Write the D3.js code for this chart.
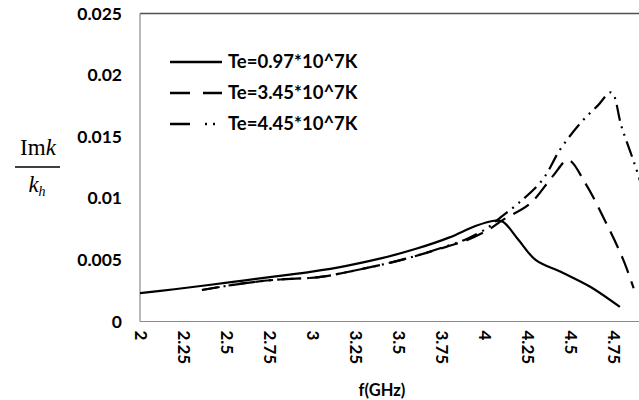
<!DOCTYPE html>
<html>
<head>
<meta charset="utf-8">
<script src="https://cdn.jsdelivr.net/npm/d3@7"></script>
<style>
  body { margin: 0; background: #fff; }
  svg { display: block; }
  .tick text { font-family: Lato, "Open Sans", sans-serif; font-weight: bold; fill: #000; }
  .legendText { font-family: Lato, "Open Sans", sans-serif; font-weight: bold; font-size: 18.5px; }
</style>
</head>
<body>
<svg id="chart"></svg>
<script>
// Te = 0.97*10^7 K
const freqSolid = [2.0, 2.2, 2.4, 2.6, 2.8, 3.0, 3.2, 3.4, 3.6, 3.8, 3.95, 4.06, 4.11, 4.2, 4.3, 4.46, 4.62, 4.79]
const imkSolid  = [0.00230, 0.00262, 0.00296, 0.00332, 0.00368, 0.00405, 0.00452, 0.00512, 0.00588, 0.00683, 0.00775, 0.00818, 0.00810, 0.00663, 0.00500, 0.00394, 0.00280, 0.00118]

// Te = 3.45*10^7 K
const freqDash = [2.36, 2.6, 2.8, 3.04, 3.2, 3.52, 3.78, 3.9, 4.02, 4.11, 4.27, 4.40, 4.49, 4.59, 4.71, 4.81, 4.87]
const imkDash  = [0.00256, 0.00310, 0.00340, 0.00360, 0.00400, 0.00500, 0.00606, 0.00660, 0.00740, 0.00825, 0.00960, 0.01180, 0.01310, 0.01120, 0.00800, 0.00500, 0.00270]

// Te = 4.45*10^7 K
const freqDot = [2.36, 2.6, 2.8, 3.04, 3.2, 3.52, 3.78, 3.9, 4.02, 4.10, 4.20, 4.34, 4.44, 4.56, 4.66, 4.74, 4.80, 4.88, 4.95]
const imkDot  = [0.00256, 0.00310, 0.00340, 0.00360, 0.00400, 0.00500, 0.00610, 0.00670, 0.00760, 0.00850, 0.00960, 0.01150, 0.01390, 0.01610, 0.01750, 0.01860, 0.01580, 0.01260, 0.00950]

const seriesNames = ['Te=0.97*10^7K', 'Te=3.45*10^7K', 'Te=4.45*10^7K']
const seriesDash = ['none', '18,9', '16,6,2,6,2,6']

const xTicks = [2, 2.25, 2.5, 2.75, 3, 3.25, 3.5, 3.75, 4, 4.25, 4.5, 4.75]
const yTicks = [0, 0.005, 0.01, 0.015, 0.02, 0.025]

const config = {
  width: 639,
  height: 400,
  left: 140,
  top: 13.5,
  bottom: 321.5,
  right: 656 // plot runs past the picture edge, as in the original
}

const svg = d3.select('#chart')
    .attr('width', config.width)
    .attr('height', config.height)

const xScale = d3.scaleLinear()
    .domain([2, 5])
    .range([config.left, config.right])

const yScale = d3.scaleLinear()
    .domain([0, 0.025])
    .range([config.bottom, config.top])

// plot area frame
svg.append('line')
    .attr('x1', config.left).attr('x2', config.right)
    .attr('y1', config.top).attr('y2', config.top)
    .attr('stroke', '#505050').attr('stroke-width', 1.5)
svg.append('line')
    .attr('x1', config.left).attr('x2', config.right)
    .attr('y1', config.bottom).attr('y2', config.bottom)
    .attr('stroke', '#8a8a8a').attr('stroke-width', 1.2)
svg.append('line')
    .attr('x1', config.left).attr('x2', config.left)
    .attr('y1', config.top).attr('y2', config.bottom)
    .attr('stroke', '#8a8a8a').attr('stroke-width', 1.2)

// axes
const yAxis = d3.axisLeft(yScale)
    .tickValues(yTicks)
    .tickSize(0)
    .tickPadding(18)
    .tickFormat(d => d3.format('~g')(+d.toFixed(3)))

const yAxisG = svg.append('g')
    .attr('transform', `translate(${config.left},0)`)
    .call(yAxis)
yAxisG.select('.domain').remove()
yAxisG.selectAll('text').style('font-size', '17.5px')

const xAxis = d3.axisBottom(xScale)
    .tickValues(xTicks)
    .tickSize(0)
    .tickFormat(d => d3.format('~g')(d))

const xAxisG = svg.append('g')
    .attr('transform', `translate(0,${config.bottom})`)
    .call(xAxis)
xAxisG.select('.domain').remove()
xAxisG.selectAll('text')
    .style('font-size', '17px')
    .attr('text-anchor', 'start')
    .attr('dy', '0.35em')
    .attr('y', 0)
    .attr('transform', 'translate(0,9) rotate(90)')

// axis titles
svg.append('text')
    .attr('x', 382)
    .attr('y', 396)
    .attr('text-anchor', 'middle')
    .style('font-family', 'Lato, sans-serif')
    .style('font-weight', 'bold')
    .style('font-size', '16.5px')
    .text('f(GHz)')

const yTitle = svg.append('g')
    .attr('transform', 'translate(38,0)')
    .style('font-family', '"Liberation Serif", "DejaVu Serif", serif')
    .style('font-size', '23px')
const numerTxt = yTitle.append('text')
    .attr('x', 0).attr('y', 155)
    .attr('text-anchor', 'middle')
numerTxt.append('tspan').text('Im')
numerTxt.append('tspan').style('font-style', 'italic').text('k')
yTitle.append('line')
    .attr('x1', -23).attr('x2', 22)
    .attr('y1', 167).attr('y2', 167)
    .attr('stroke', '#000').attr('stroke-width', 1.3)
const denomTxt = yTitle.append('text')
    .attr('x', -1).attr('y', 192)
    .attr('text-anchor', 'middle')
    .style('font-style', 'italic')
denomTxt.append('tspan').text('k')
denomTxt.append('tspan').attr('dy', 4).style('font-size', '14px').text('h')

// curves
const series = [
  freqSolid.map((f, i) => ({f: f, v: imkSolid[i]})),
  freqDash.map((f, i) => ({f: f, v: imkDash[i]})),
  freqDot.map((f, i) => ({f: f, v: imkDot[i]}))
]

const line = d3.line()
    .x(d => xScale(d.f))
    .y(d => yScale(d.v))
    .curve(d3.curveCatmullRom.alpha(0.5))

svg.append('clipPath').attr('id', 'plotClip')
  .append('rect')
    .attr('x', config.left).attr('y', config.top)
    .attr('width', config.right - config.left)
    .attr('height', config.bottom - config.top)

svg.append('g')
    .attr('clip-path', 'url(#plotClip)')
  .selectAll('path')
    .data(series)
    .join('path')
    .attr('d', line)
    .attr('fill', 'none')
    .attr('stroke', '#000')
    .attr('stroke-width', 2.2)
    .attr('stroke-dasharray', (d, i) => seriesDash[i])

// legend
const legend = svg.append('g')
    .attr('transform', 'translate(170,62)')

legend.selectAll('line')
    .data(seriesNames)
    .join('line')
    .attr('x1', 0).attr('x2', 52)
    .attr('y1', (d, i) => i * 31).attr('y2', (d, i) => i * 31)
    .attr('stroke', '#000')
    .attr('stroke-width', 2.6)
    .attr('stroke-dasharray', (d, i) => i === 0 ? 'none' : (i === 1 ? '20,13' : '20,15,2,6,2,20'))

legend.selectAll('text')
    .data(seriesNames)
    .join('text')
    .attr('class', 'legendText')
    .attr('x', 58)
    .attr('y', (d, i) => i * 31)
    .attr('dy', '0.35em')
    .text(d => d)
</script>
</body>
</html>
